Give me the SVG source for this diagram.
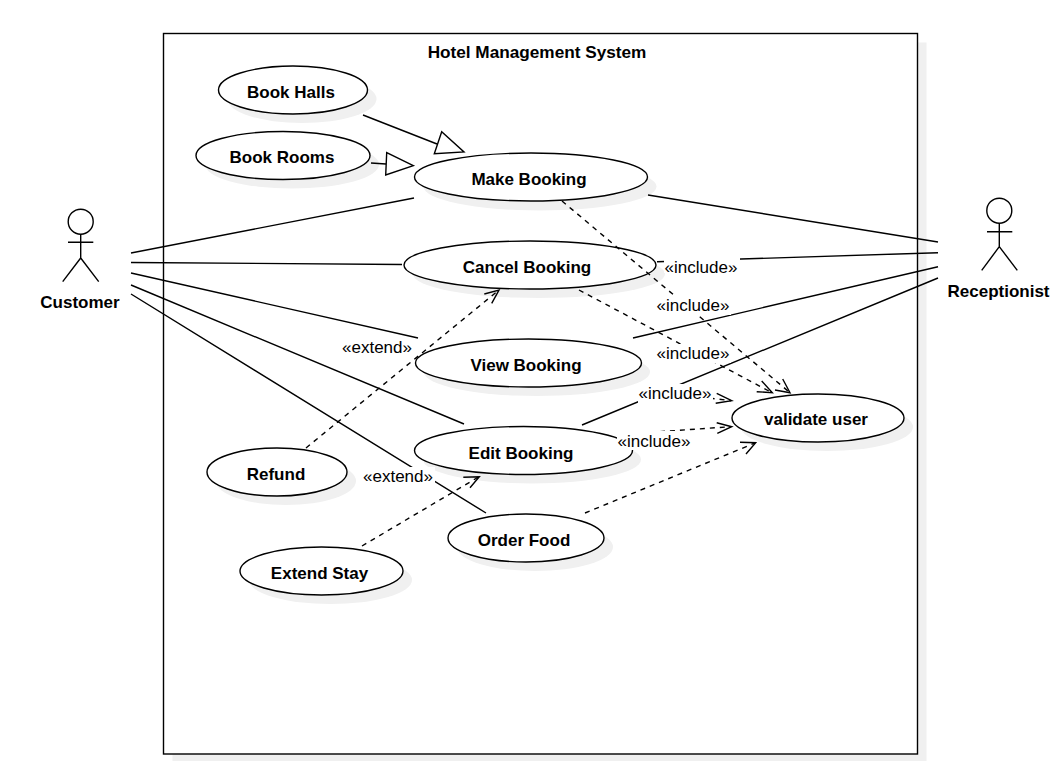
<svg xmlns="http://www.w3.org/2000/svg" width="1064" height="761" viewBox="0 0 1064 761">
<style>
text{font-family:"Liberation Sans",Arial,sans-serif;fill:#000;text-anchor:middle}
.n{font-size:17px;font-weight:bold}
.t{font-size:17.200px;font-weight:bold}
.l{font-size:17px}
.s{fill:#f0f0f0;stroke:none}
.u{fill:#fff;stroke:#000;stroke-width:1.4}
.c{fill:none;stroke:#000;stroke-width:1.4}
.d{fill:none;stroke:#000;stroke-width:1.4;stroke-dasharray:5 5}
.o{fill:none;stroke:#000;stroke-width:1.4}
.bg{fill:#fff;stroke:none}
</style>
<g id="system">
<rect class="s" x="172.500" y="42.500" width="754" height="720"/>
<rect class="u" x="163.500" y="33.500" width="754" height="720.500"/>
<text class="t" x="537" y="58">Hotel Management System</text>
</g>
<g id="use-cases-shadow">
<ellipse class="s" cx="302" cy="99" rx="74.500" ry="24"/>
<ellipse class="s" cx="292" cy="164.500" rx="87" ry="24"/>
<ellipse class="s" cx="540" cy="186.500" rx="116.500" ry="24"/>
<ellipse class="s" cx="539" cy="274" rx="126" ry="24"/>
<ellipse class="s" cx="537" cy="372" rx="113" ry="24"/>
<ellipse class="s" cx="532" cy="459.500" rx="109" ry="24"/>
<ellipse class="s" cx="286" cy="481" rx="70" ry="24"/>
<ellipse class="s" cx="330.500" cy="580" rx="81.500" ry="24"/>
<ellipse class="s" cx="535" cy="547" rx="78" ry="24"/>
<ellipse class="s" cx="827" cy="427" rx="86" ry="24"/>
</g>
<g id="book-halls"><ellipse class="u" cx="293" cy="90" rx="74.500" ry="24"/><text class="n" x="291" y="98">Book Halls</text></g>
<g id="book-rooms"><ellipse class="u" cx="283" cy="155.500" rx="87" ry="24"/><text class="n" x="282" y="163">Book Rooms</text></g>
<g id="make-booking"><ellipse class="u" cx="531" cy="177" rx="116.500" ry="24"/><text class="n" x="529" y="185">Make Booking</text></g>
<g id="cancel-booking"><ellipse class="u" cx="530" cy="265" rx="126" ry="24"/><text class="n" x="527" y="273">Cancel Booking</text></g>
<g id="view-booking"><ellipse class="u" cx="528.500" cy="363" rx="113" ry="24"/><text class="n" x="526" y="371">View Booking</text></g>
<g id="edit-booking"><ellipse class="u" cx="523.500" cy="450.500" rx="109" ry="24"/><text class="n" x="521" y="459">Edit Booking</text></g>
<g id="refund"><ellipse class="u" cx="277" cy="472" rx="70" ry="24"/><text class="n" x="276" y="480">Refund</text></g>
<g id="extend-stay"><ellipse class="u" cx="321.500" cy="571" rx="81.500" ry="24"/><text class="n" x="319.500" y="579">Extend Stay</text></g>
<g id="order-food"><ellipse class="u" cx="526" cy="538" rx="78" ry="24"/><text class="n" x="524" y="546">Order Food</text></g>
<g id="validate-user"><ellipse class="u" cx="818" cy="418" rx="86" ry="24"/><text class="n" x="816" y="425">validate user</text></g>
<g id="customer">
<circle class="u" cx="80.700" cy="221.700" r="12.500"/>
<path class="c" d="M68 242.300H93.300M80.700 234.200V258M80.700 258L62.700 281.700M80.700 258L98.700 281.700"/>
<text class="n" x="80" y="308">Customer</text>
</g>
<g id="receptionist">
<circle class="u" cx="999.300" cy="210.700" r="12.500"/>
<path class="c" d="M987 231.700H1012.300M999.300 223.200V246.700M999.300 246.700L981.700 270.300M999.300 246.700L1017.300 270.300"/>
<text class="n" x="998.500" y="297">Receptionist</text>
</g>
<g id="connectors">
<path class="c" d="M131 253L414 198M131 262.500L402 264.500M131 273L418 338M131 285L464 424M131 294L486 513"/>
<path class="c" d="M648 195L938 242M657 261.700L938 252.700M633 338L938 266.700M582 425L938 278"/>
<path class="c" d="M363 115L437 144"/>
<path class="u" d="M441.700 131.700L434.300 153.700L464 152Z"/>
<path class="c" d="M371 163L386 164"/>
<path class="u" d="M386.700 152.700L385.700 175L413.300 165.700Z"/>
<path class="d" d="M562 201L790 392.700M579 290L772 392.700M306 448L499 290M362 546L479 476.700M585 513L755 443M640 433L731 426.700M660 392L731 400.700"/>
<path class="o" d="M782.700 379L790 392.700L775 390M761.700 381L772.300 392.700L756.700 391.700M484.300 294L499 290L491.700 303.300M463.300 477.300L479.300 476.700L470 487.700M740 442.300L755.700 442.700L746 454M716.700 422.700L731.700 426.700L717.300 433.300M716.700 393.300L731.700 400.700L715.700 403.300"/>
<rect class="bg" x="664" y="253" width="76" height="20"/>
<text class="l" x="701" y="273">«include»</text>
<rect class="bg" x="656" y="296" width="75" height="19"/>
<text class="l" x="693" y="311">«include»</text>
<rect class="bg" x="656" y="344" width="75" height="19"/>
<text class="l" x="693" y="359">«include»</text>
<rect class="bg" x="638" y="384" width="75" height="19"/>
<text class="l" x="675" y="399">«include»</text>
<rect class="bg" x="617" y="431" width="74" height="19"/>
<text class="l" x="654" y="447">«include»</text>
<rect class="bg" x="340" y="338" width="73" height="19"/>
<text class="l" x="377" y="353">«extend»</text>
<rect class="bg" x="362" y="467" width="73" height="19"/>
<text class="l" x="398" y="482">«extend»</text>
</g>
</svg>
